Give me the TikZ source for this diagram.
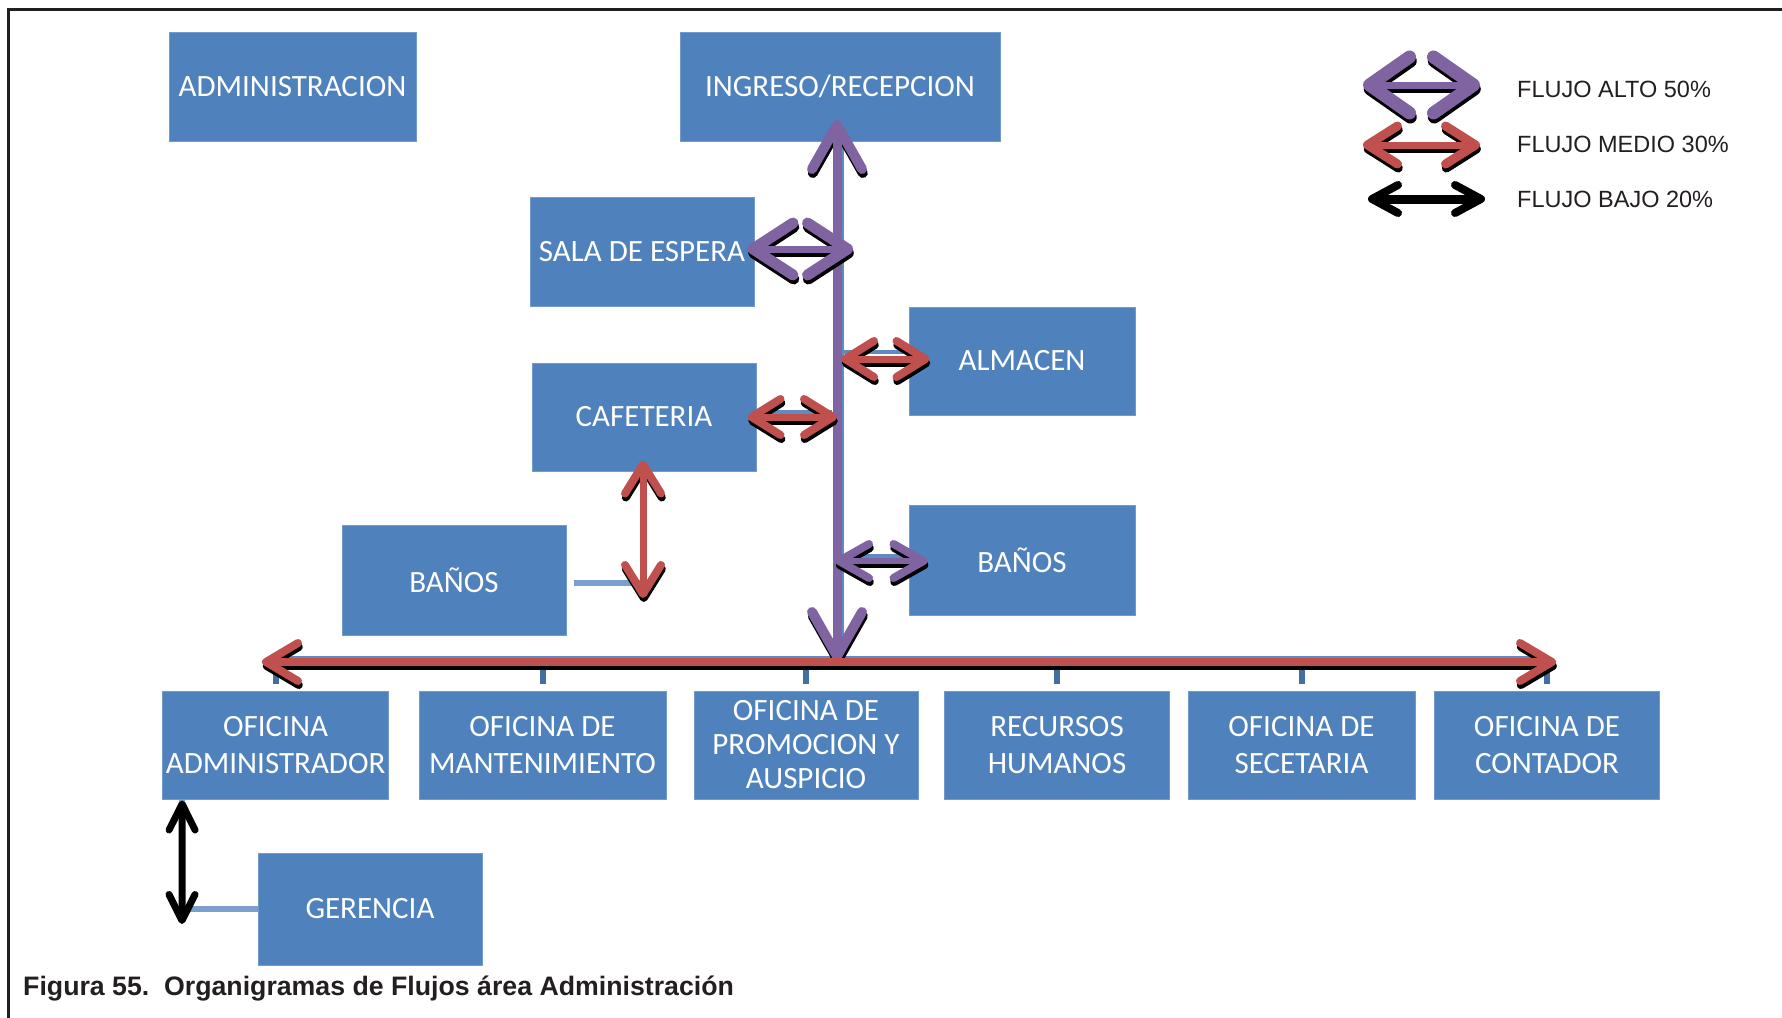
\documentclass[tikz,border=0pt]{standalone}
\usepackage{fontspec}
\setmainfont{Liberation Sans}
\newfontfamily\boxfont{Carlito}
\usetikzlibrary{arrows.meta,calc}

\definecolor{boxblue}{HTML}{4F81BD}
\definecolor{linkblue}{HTML}{5F8AC3}
\definecolor{flowpurple}{HTML}{8064A2}
\definecolor{flowred}{HTML}{C0504D}
\definecolor{inkdark}{HTML}{231F20}

\tikzset{
  area/.style={fill=boxblue, draw=boxblue!80!white, line width=1pt, inner sep=0pt,
    align=center, text=white, font=\boxfont\fontsize{31}{37}\selectfont},
  link/.style={draw=linkblue, line width=4pt},
  tick/.style={draw=boxblue!85!black, line width=6pt},
  barbs/.style n args={3}{>={Straight Barb[length=#1pt,width=#2pt,line width=#3pt,round]}, <->},
  altoflow/.style={draw=flowpurple, line width=9pt},
  medioflow/.style={draw=flowred, line width=7pt, barbs={29}{36}{8}},
  bajoflow/.style={draw=black, line width=7pt, barbs={26}{26}{7}},
  legendtext/.style={anchor=base west, inner sep=0pt, text=inkdark,
    font=\fontsize{23.5}{28}\selectfont},
}

% a flow arrow with its black drop shadow: #1 style, #2 start, #3 end
\newcommand\shadowflow[3]{%
  \begin{scope}[transform canvas={shift={(0.8pt,-4pt)}}]
    \draw[#1, draw=black] #2 -- #3;
  \end{scope}
  \draw[#1] #2 -- #3;}

\begin{document}
\begin{tikzpicture}[x=1pt, y=-1pt]
\useasboundingbox (0,0) rectangle (1782,1017);

% frame
\draw[line width=3pt, inkdark] (8,1030) -- (8,9) -- (1795,9);

% areas
\node[area, minimum width=247pt, minimum height=109pt] (admin)   at (292.5,86.5) {ADMINISTRACION};
\node[area, minimum width=320pt, minimum height=109pt] (ingreso) at (840,86.5)   {INGRESO/RECEPCION};
\node[area, minimum width=224pt, minimum height=109pt] (sala)    at (642,251.5)  {SALA DE ESPERA};
\node[area, minimum width=224pt, minimum height=108pt] (cafe)    at (644,417)    {CAFETERIA};
\node[area, minimum width=226pt, minimum height=108pt] (almacen) at (1022,361)   {ALMACEN};
\node[area, minimum width=226pt, minimum height=110pt] (banosR)  at (1022,560)   {BAÑOS};
\node[area, minimum width=224pt, minimum height=110pt] (banosL)  at (454,580)    {BAÑOS};

\node[area, minimum width=226pt, minimum height=108pt] (ofadm)   at (275.6,745) {OFICINA\\ADMINISTRADOR};
\node[area, minimum width=247pt, minimum height=108pt] (ofmant)  at (542.5,745) {OFICINA DE\\MANTENIMIENTO};
\node[area, minimum width=224pt, minimum height=108pt,
      font=\boxfont\fontsize{31}{34}\selectfont] (promo) at (806,745) {OFICINA DE\\PROMOCION Y\\AUSPICIO};
\node[area, minimum width=225pt, minimum height=108pt] (rrhh)    at (1057,745)  {RECURSOS\\HUMANOS};
\node[area, minimum width=227pt, minimum height=108pt] (secre)   at (1301.5,745) {OFICINA DE\\SECETARIA};
\node[area, minimum width=225pt, minimum height=108pt] (conta)   at (1547,745)  {OFICINA DE\\CONTADOR};
\node[area, minimum width=224pt, minimum height=112pt] (geren)   at (370,909)   {GERENCIA};

% organisation links underneath the flows
\coordinate (busL) at (275,658);
\coordinate (busR) at (1550,658);
\draw[link] (busL) -- (busR);
\foreach \n in {ofadm,ofmant,promo,rrhh,secre,conta}
  \draw[tick] (\n.north |- busL) -- ($(\n.north)+(0,-7)$);
\draw[link] (842,141) -- (842,658);
\draw[link] (842,352) -- (almacen.west |- 0,352);
\draw[link] (842,556) -- (banosR.west |- 0,556);
\draw[link] (cafe.east |- 0,412) -- (832,412);
\draw[link, line width=6pt, draw=boxblue!75!white] ($(banosL.east)+(7,3)$) -- (643,583);
\draw[link, line width=6pt, draw=boxblue!75!white] ($(ofadm.south west)+(20,0)$) |- (geren.west |- 0,909);

% flows
\coordinate (trunkTop) at (837,120);
\coordinate (trunkBot) at (837,661);
\shadowflow{altoflow, barbs={44}{50}{10}}{(trunkTop)}{(trunkBot)}

\coordinate (salaR) at (853,249);
\shadowflow{altoflow, line width=7pt, barbs={40}{52}{11}}{($(sala.east)+(-7,-2.5)$)}{(salaR)}

\shadowflow{medioflow}{($(trunkTop |- 0,359)+(4,0)$)}{($(almacen.west)+(21,-2)$)}
\shadowflow{medioflow}{($(cafe.east)+(-9,0)$)}{(trunkTop |- cafe.east)}
\shadowflow{altoflow, line width=6pt, barbs={30}{34}{8}}{($(trunkTop |- banosR.west)+(-2,1)$)}{($(banosR.west)+(19,1)$)}
\shadowflow{medioflow}{($(cafe.south)+(-1,-11)$)}{(643,598)}

\coordinate (busTipL) at (262,662);
\coordinate (busTipR) at (1556,662);
\shadowflow{draw=flowred, line width=8pt, barbs={32}{38}{8}}{(busTipL)}{(busTipR)}

\draw[bajoflow] ($(ofadm.south west)+(20,1)$) -- (182,924);

% legend
\coordinate (la1) at (1363,85);  \coordinate (la2) at (1480,85);
\coordinate (lm1) at (1363,145); \coordinate (lm2) at (1480,145);
\coordinate (lb1) at (1368,199); \coordinate (lb2) at (1485,199);
\shadowflow{altoflow, line width=7pt, barbs={40}{56}{13}}{(la1)}{(la2)}
\shadowflow{medioflow, barbs={30}{38}{9}}{(lm1)}{(lm2)}
\draw[bajoflow, line width=9pt, barbs={26}{28}{8}] (lb1) -- (lb2);
\node[legendtext] (lalto)  at (1517,97)  {FLUJO ALTO 50\%};
\node[legendtext] (lmedio) at (1517,152) {FLUJO MEDIO 30\%};
\node[legendtext] (lbajo)  at (1517,207) {FLUJO BAJO 20\%};

% caption
\node[anchor=base west, inner sep=0pt, text=inkdark,
      font=\bfseries\fontsize{26.7}{30}\selectfont] (caption) at (23,995.5)
  {Figura 55.\ \ Organigramas de Flujos área Administración};
\end{tikzpicture}
\end{document}
